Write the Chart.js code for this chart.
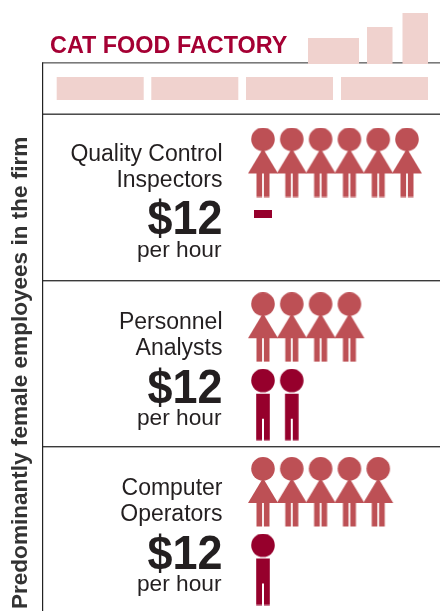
<!DOCTYPE html>
<html>
<head>
<meta charset="utf-8">
<style>html,body{margin:0;padding:0;background:#fff}canvas{display:block}</style>
<script src="https://cdn.jsdelivr.net/npm/chart.js@4"></script>
</head>
<body>
<canvas id="c" width="440" height="611"></canvas>
<script>
const chartTitle = "CAT FOOD FACTORY";
const axisTitle = "Predominantly female employees in the firm";
const occupations = [["Quality Control","Inspectors"],["Personnel","Analysts"],["Computer","Operators"]];
const wages = ["$12","$12","$12"];
const wageUnit = "per hour";
const women = [6,4,5];
const men = [0,2,1];

const FONT = '"Liberation Sans", Arial, sans-serif';
const INK = '#231f20', WOMAN = '#bd5055', MAN = '#96002c', PINK = '#f0d2ce';

function sprite(w,h,draw){const c=document.createElement('canvas');c.width=w;c.height=h;draw(c.getContext('2d'));return c;}
const womanIcon = sprite(32,70,g=>{
  g.fillStyle=WOMAN;
  g.beginPath();g.arc(16,11.8,11.8,0,Math.PI*2);g.fill();
  g.beginPath();g.moveTo(16,21);g.lineTo(31,46);g.lineTo(1,46);g.closePath();g.fill();
  g.fillRect(9.5,46,5.6,23.5);g.fillRect(16.9,46,5.6,23.5);
});
const manIcon = sprite(32,72,g=>{
  g.fillStyle=MAN;
  g.beginPath();g.arc(16,11.8,11.8,0,Math.PI*2);g.fill();
  g.fillRect(9.2,25,13.6,46.5);
  g.clearRect(15.3,50,1.4,22);
});
const noneIcon = sprite(18,8,g=>{g.fillStyle=MAN;g.fillRect(0,0,18,8);});

// scale setup: x unit = one person, y unit = one table row
const personStep=28.8, firstPerson=263, rowStep=164.75, firstRow=162.5;
const manOffset=77.5/rowStep, noneOffset=51/rowStep;
const xMin=1-firstPerson/personStep, xMax=xMin+440/personStep;
const yMin=-firstRow/rowStep, yMax=yMin+611/rowStep;

const womanPts=[],manPts=[],nonePts=[];
women.forEach((n,r)=>{for(let i=1;i<=n;i++)womanPts.push({x:i,y:r});});
men.forEach((n,r)=>{
  for(let i=1;i<=n;i++)manPts.push({x:i,y:r+manOffset});
  if(n===0)nonePts.push({x:1,y:r+noneOffset});
});

const textNudge=[-4,0,1];
const frame={
  id:'frame',
  beforeDatasetsDraw(ch){
    const g=ch.ctx;
    g.save();
    // frame lines
    g.fillStyle='#7a7a7a';g.fillRect(42,62,398,1.6);
    g.fillStyle='#3a3a3a';
    g.fillRect(42,113.5,398,1.4);g.fillRect(42,280,398,1.4);g.fillRect(42,446,398,1.4);
    g.fillStyle='#222';g.fillRect(42,62.5,1.2,549);
    // factory decoration
    g.fillStyle=PINK;
    [[308,38,51,26],[367,27,25.5,37],[402.5,13,25.5,51]].forEach(r=>g.fillRect(...r));
    [56.7,151.3,246,341].forEach(x=>g.fillRect(x,77,87,23));
    // title
    g.textBaseline='alphabetic';
    g.fillStyle='#a50034';g.textAlign='left';g.font='bold 23.4px '+FONT;
    g.fillText(chartTitle,50,53);
    // row text
    g.fillStyle=INK;g.textAlign='right';
    const sy=ch.scales.y;
    occupations.forEach((lines,r)=>{
      const y0=sy.getPixelForValue(r)+textNudge[r];
      g.font='23px '+FONT;
      g.fillText(lines[0],222.5,y0+2);
      g.fillText(lines[1],222.5,y0+28);
      g.font='bold 49px '+FONT;
      g.fillText(wages[r],222.5,y0+75.5,75);
      g.font='22.7px '+FONT;
      g.fillText(wageUnit,221.5,y0+98);
    });
    // vertical axis label
    g.translate(27,609);g.rotate(-Math.PI/2);
    g.textAlign='left';g.font='bold 22.55px '+FONT;g.fillStyle='#333';
    g.fillText(axisTitle,0,0);
    g.restore();
  }
};

new Chart(document.getElementById('c'),{
  type:'scatter',
  data:{datasets:[
    {label:'Women',data:womanPts,pointStyle:womanIcon},
    {label:'Men',data:manPts,pointStyle:manIcon},
    {label:'None',data:nonePts,pointStyle:noneIcon}
  ]},
  options:{
    responsive:false,animation:false,devicePixelRatio:1,
    layout:{padding:0,autoPadding:false},
    plugins:{legend:{display:false},tooltip:{enabled:false},title:{display:false}},
    scales:{
      x:{type:'linear',display:false,min:xMin,max:xMax,bounds:'data'},
      y:{type:'linear',display:false,min:yMin,max:yMax,reverse:true,bounds:'data'}
    }
  },
  plugins:[frame]
});
</script>
</body>
</html>
